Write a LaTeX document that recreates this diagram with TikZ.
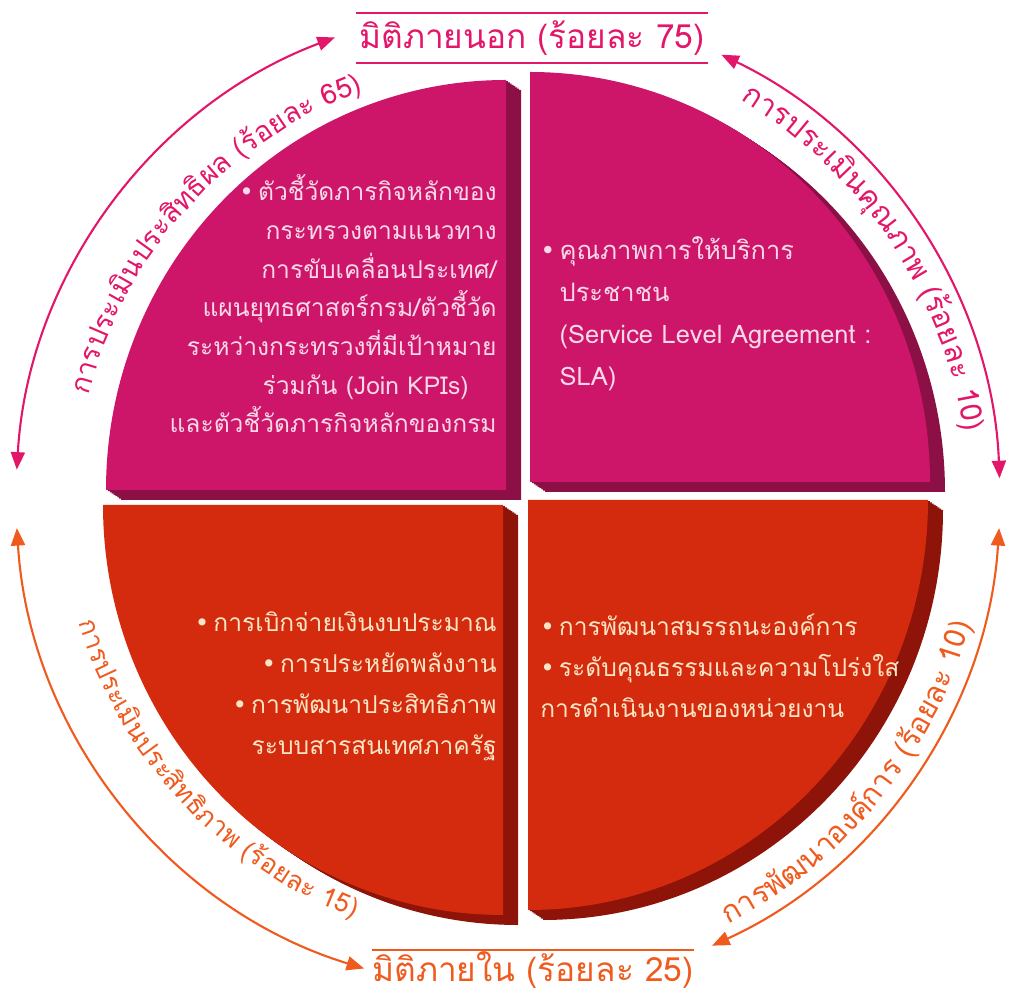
\documentclass[tikz,border=0pt]{standalone}
\usepackage{fontspec}
\setmainfont[Script=Thai]{Loma}
\newfontfamily\symfont{DejaVu Sans}
\usetikzlibrary{arrows.meta}
\definecolor{pink_f}{HTML}{CD1669}
\definecolor{pink_d}{HTML}{8C0F45}
\definecolor{red_f}{HTML}{D42B0E}
\definecolor{red_d}{HTML}{8E1409}
\definecolor{pink_l}{HTML}{E3176A}
\definecolor{orange_l}{HTML}{EF5B1F}
\definecolor{pink_txt}{HTML}{F9D9E8}
\definecolor{cream_txt}{HTML}{FBE5C4}
\def\arcsize{17}
\newcommand\arcfont{\fontsize{\arcsize}{20}\selectfont}
\newcommand\blt{{\symfont •}\,}
\newlength\lblW
% measure a chunk outside the picture's null font
\newcommand\lblmeasure[1]{%
  \pgfinterruptpicture
    \settowidth\lblW{\arcfont #1}\global\lblW=\lblW
  \endpgfinterruptpicture}
% one quarter slab: corner x, corner y, start angle, face, side
\newcommand\slab[5]{%
  \foreach \s in {8,7,...,1}
    \fill[#5] ({#1+\s*15/8},{#2-\s*10/8}) -- ++({400*cos(#3)},{410*sin(#3)})
      arc[start angle=#3, delta angle=90, x radius=400, y radius=410] -- cycle;
  \fill[#4] (#1,#2) -- ++({400*cos(#3)},{410*sin(#3)})
      arc[start angle=#3, delta angle=90, x radius=400, y radius=410] -- cycle;
}
% text on an arc: name, radius, middle angle, direction, colour, chunks
\newcommand\arclabel[6]{%
  \gdef\lblTot{0}%
  \foreach \lblChunk in {#6}{%
    \lblmeasure{\lblChunk}%
    \pgfmathsetmacro\lblTmp{\lblTot+\the\lblW}%
    \xdef\lblTot{\lblTmp}%
  }%
  \pgfmathsetmacro\lblAng{#3-(#4)*\lblTot/(#2*0.569055)*28.64789}%
  \xdef\lblAng{\lblAng}%
  \foreach \lblChunk [count=\k] in {#6}{%
    \lblmeasure{\lblChunk}%
    \pgfmathsetmacro\lblStep{\the\lblW/(#2*0.569055)*57.29578}%
    \pgfmathsetmacro\lblMid{\lblAng+(#4)*\lblStep/2}%
    \node[arclbl, text=#5, rotate=\lblMid+(#4)*90] (#1\k) at (\lblAng:#2) {\lblChunk};
    \pgfmathsetmacro\lblTmp{\lblAng+(#4)*\lblStep}%
    \xdef\lblAng{\lblTmp}%
  }%
}
\begin{document}
\begin{tikzpicture}[
    x=0.02cm, y=0.02cm,
    arclbl/.style = {inner sep=0pt, anchor=base west, font=\arcfont},
    bodytext/.style = {inner sep=0pt},
    ttl/.style = {inner sep=0pt, font=\fontsize{19}{22}\selectfont},
    >={Triangle[length=10pt,width=8pt]},
    pinkarrow/.style = {draw=pink_l, line width=1.2pt, <->},
    orangearrow/.style = {draw=orange_l, line width=1.2pt, <->},
    ]
    \useasboundingbox (0,0) rectangle (1012,994);
    % slabs
    \slab{506}{504}{90}{pink_f}{pink_d}
    \slab{530}{512}{0}{pink_f}{pink_d}
    \slab{503}{489}{180}{red_f}{red_d}
    \slab{528}{494}{270}{red_f}{red_d}
    % texts in the slabs
    \node[bodytext, text=pink_txt, anchor=east,
          font=\fontsize{14}{22}\selectfont] (tlText) at (497,685) {%
      \begin{tabular}{@{}r@{}}
      \blt ตัวชี้วัดภารกิจหลักของ\\
      กระทรวงตามแนวทาง\\
      การขับเคลื่อนประเทศ/\\
      แผนยุทธศาสตร์กรม/ตัวชี้วัด\\
      ระหว่างกระทรวงที่มีเป้าหมาย\\
      ร่วมกัน (Join KPIs)\rule{16pt}{0pt}\\
      และตัวชี้วัดภารกิจหลักของกรม
      \end{tabular}};
    \node[bodytext, text=pink_txt, align=left, anchor=west,
          font=\fontsize{14.5}{24}\selectfont] (trText) at (540,680) {%
      \blt คุณภาพการให้บริการ\\
      \phantom{\blt}ประชาชน\\
      \phantom{\blt}(Service Level Agreement :\\
      \phantom{\blt}SLA)};
    \node[bodytext, text=cream_txt, align=right, anchor=east,
          font=\fontsize{14}{23.3}\selectfont] (blText) at (497,308) {%
      \blt การเบิกจ่ายเงินงบประมาณ\\
      \blt การประหยัดพลังงาน\\
      \blt การพัฒนาประสิทธิภาพ\\
      ระบบสารสนเทศภาครัฐ};
    \node[bodytext, text=cream_txt, align=left, anchor=west,
          font=\fontsize{14}{23.3}\selectfont] (brText) at (540,328) {%
      \blt การพัฒนาสมรรถนะองค์การ\\
      \blt ระดับคุณธรรมและความโปร่งใส\\
      การดำเนินงานของหน่วยงาน};
    % titles
    \node[ttl, text=pink_l, minimum width=7.02cm, minimum height=1cm] (outerTitle) at (532,956) {มิติภายนอก (ร้อยละ 75)};
    \draw[pink_l, line width=1.2pt] (outerTitle.north west) -- (outerTitle.north east);
    \draw[pink_l, line width=1.2pt] (outerTitle.south west) -- (outerTitle.south east);
    \node[ttl, text=orange_l, minimum width=6.4cm, minimum height=0.8cm] (innerTitle) at (533,24) {มิติภายใน (ร้อยละ 25)};
    \draw[orange_l, line width=1.2pt] (innerTitle.north west) -- (innerTitle.north east);
    % arcs and their labels
    \begin{scope}[shift={(508,496)}]
      \coordinate (tlArc) at (110.6:492);
      \coordinate (trArc) at (2.3:492);
      \coordinate (blArc) at (183.5:492);
      \coordinate (brArc) at (-3.5:492);
      \draw[pinkarrow] (tlArc) arc[start angle=110.6, end angle=176.7, radius=492];
      \draw[pinkarrow] (trArc) arc[start angle=2.3, end angle=64.3, radius=492];
      \draw[orangearrow] (blArc) arc[start angle=183.5, end angle=253, radius=492];
      \draw[orangearrow] (brArc) arc[start angle=-3.5, end angle=-65.5, radius=492];
      \def\arcsize{16}
      \arclabel{tlLbl}{432}{138}{-1}{pink_l}{การ,ประ,เมิน,ประ,สิทธิ,{ผล\ },{(ร้อย},{ละ\ },{65)}}
      \def\arcsize{17}
      \arclabel{trLbl}{461}{34}{-1}{pink_l}{การ,ประ,เมิน,คุณ,{ภาพ\ },{(ร้อย},{ละ\ },{10)}}
      \def\arcsize{15}
      \arclabel{blLbl}{447}{223}{1}{orange_l}{การ,ประ,เมิน,ประ,สิทธิ,{ภาพ\ },{(ร้อย},{ละ\ },{15)}}
      \def\arcsize{17}
      \arclabel{brLbl}{480}{-39}{1}{orange_l}{การ,พัฒ,นา,องค์,{การ\ },{(ร้อย},{ละ\ },{10)}}
    \end{scope}
\end{tikzpicture}
\end{document}
